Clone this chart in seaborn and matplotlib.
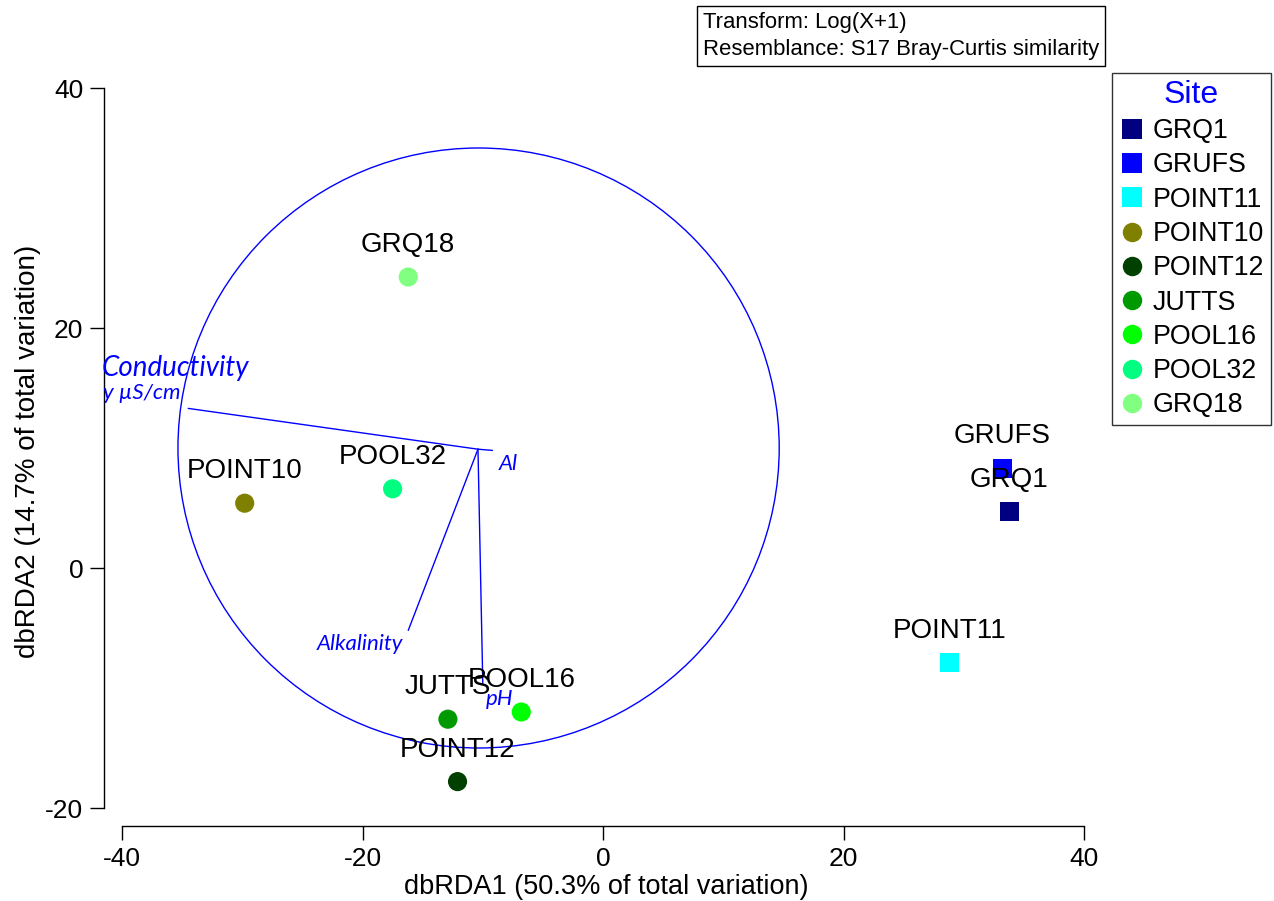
import matplotlib
matplotlib.use("Agg")
import matplotlib.pyplot as plt
from matplotlib.patches import Circle
from matplotlib.lines import Line2D
import seaborn as sns
import pandas as pd

# ---- data ----
sites = ["GRQ1", "GRUFS", "POINT11", "POINT10", "POINT12", "JUTTS", "POOL16", "POOL32", "GRQ18"]
x_vals = [33.8, 33.2, 28.8, -29.8, -12.1, -12.9, -6.8, -17.5, -16.2]
y_vals = [4.7, 8.3, -7.9, 5.4, -17.8, -12.6, -12.0, 6.6, 24.25]
colors = ["#000080", "#0000FF", "#00FFFF", "#808000", "#004000", "#009900", "#00FF00", "#00FF80", "#80FF80"]
markers = ["s", "s", "s", "o", "o", "o", "o", "o", "o"]

vec_names = ["Conductivity", "Al", "Alkalinity", "pH"]
vec_x = [-34.5, -9.2, -16.2, -10.0]
vec_y = [13.3, 9.8, -5.2, -9.6]
origin = (-10.4, 9.9)
circle_center = (-10.35, 10.0)
circle_radius = 25.0

xticks = [-40, -20, 0, 20, 40]
yticks = [-20, 0, 20, 40]

df = pd.DataFrame({"Site": sites, "x": x_vals, "y": y_vals})

sns.set_theme(style="white")
plt.rcParams["font.family"] = ["Liberation Sans", "DejaVu Sans"]
plt.rcParams["text.color"] = "black"

W, H = 1274, 901
fig = plt.figure(figsize=(W / 100, H / 100), dpi=100)
ax_left, ax_bottom = 104, 826
xlim = (-41.5, 42.0)
ylim = (-21.5, 41.0)
pxx, pxy = 12.025, 12.0
ax_w = (xlim[1] - xlim[0]) * pxx
ax_h = (ylim[1] - ylim[0]) * pxy
ax = fig.add_axes([ax_left / W, (H - ax_bottom) / H, ax_w / W, ax_h / H])

# circle and vectors
ax.add_patch(Circle(circle_center, circle_radius, fill=False, edgecolor="#0000FF", lw=1.0, zorder=1))
for vx, vy in zip(vec_x, vec_y):
    ax.plot([origin[0], vx], [origin[1], vy], color="#0000FF", lw=1.0, zorder=1)

vfont = dict(family="Lato", style="italic", color="#0000FF")
ax.text(-35.6, 16.7, "Conductivity", fontsize=20, ha="center", va="center", clip_on=False, **vfont)
ax.text(-41.6, 14.6, "y µS/cm", fontsize=16, ha="left", va="center", clip_on=False, **vfont)
ax.text(-7.9, 8.7, "Al", fontsize=16, ha="center", va="center", **vfont)
ax.text(-20.2, -6.3, "Alkalinity", fontsize=16, ha="center", va="center", **vfont)
ax.text(-8.6, -10.9, "pH", fontsize=16, ha="center", va="center", **vfont)

palette = dict(zip(sites, colors))
marker_map = dict(zip(sites, markers))
sns.scatterplot(data=df, x="x", y="y", hue="Site", style="Site", palette=palette,
                markers=marker_map, s=190, linewidth=0, legend=False, ax=ax, zorder=3)

for sx, sy, name in zip(x_vals, y_vals, sites):
    ax.annotate(name, (sx, sy), xytext=(0, 18), textcoords="offset points",
                ha="center", va="baseline", fontsize=20, color="black", zorder=4)

ax.set_xlim(*xlim)
ax.set_ylim(*ylim)
ax.set_xticks(xticks)
ax.set_yticks(yticks)
ax.set_xticklabels([str(t) for t in xticks])
ax.set_yticklabels([str(t) for t in yticks])
for s in ["top", "right"]:
    ax.spines[s].set_visible(False)
for s in ["left", "bottom"]:
    ax.spines[s].set_color("black")
    ax.spines[s].set_linewidth(1.0)
ax.spines["left"].set_bounds(-20, 40)
ax.spines["bottom"].set_bounds(-40, 40)
ax.tick_params(axis="both", which="major", direction="out", length=10, width=1.0,
               color="black", labelsize=19, labelcolor="black", pad=5, left=True, bottom=True)
ax.set_xlabel("dbRDA1 (50.3% of total variation)", fontsize=19.5, color="black", labelpad=2.5)
ax.set_ylabel("dbRDA2 (14.7% of total variation)", fontsize=20, color="black", labelpad=3)
ax.grid(False)
ax.set_facecolor("white")

# legend
handles = [Line2D([0], [0], marker=m, color="none", markerfacecolor=c, markeredgewidth=0,
                  markersize=14, linestyle="none") for m, c in zip(markers, colors)]
leg = ax.legend(handles, sites, title="Site", loc="upper left",
                bbox_to_anchor=(1112 / W, 1 - 73 / H), bbox_transform=fig.transFigure,
                frameon=True, fancybox=False, edgecolor="black", fontsize=19.3,
                title_fontsize=23, borderaxespad=0, labelspacing=0.31,
                handletextpad=0.28, handlelength=1.0, borderpad=0.25, labelcolor="black")
leg.get_title().set_color("#0000FF")
leg.get_frame().set_linewidth(1.0)

fig.text(703 / W, 1 - 12 / H, "Transform: Log(X+1)\nResemblance: S17 Bray-Curtis similarity",
         fontsize=15.9, ha="left", va="top", linespacing=1.38,
         bbox=dict(boxstyle="square,pad=0.25", facecolor="white", edgecolor="black", lw=1.0))

fig.savefig("out.png", dpi=100)
